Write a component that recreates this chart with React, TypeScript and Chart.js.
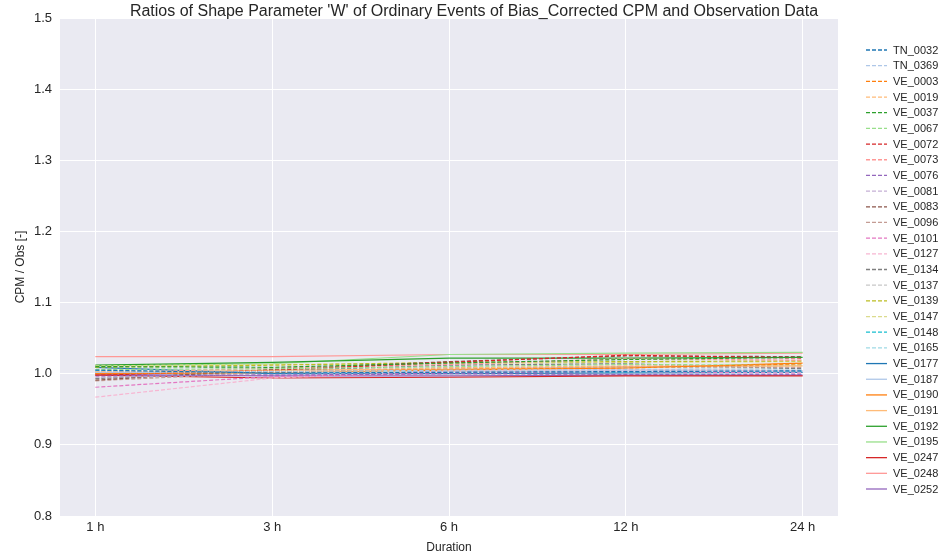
import React, { useEffect, useRef } from "react";
import { Chart, registerables } from "chart.js";

Chart.register(...registerables);

const TITLE = "Ratios of Shape Parameter 'W' of Ordinary Events of Bias_Corrected CPM and Observation Data";
const durations = ["1 h", "3 h", "6 h", "12 h", "24 h"];
const yTicks = [0.8, 0.9, 1.0, 1.1, 1.2, 1.3, 1.4, 1.5];

const stations = [
  "TN_0032", "TN_0369", "VE_0003", "VE_0019", "VE_0037", "VE_0067", "VE_0072", "VE_0073",
  "VE_0076", "VE_0081", "VE_0083", "VE_0096", "VE_0101", "VE_0127", "VE_0134", "VE_0137",
  "VE_0139", "VE_0147", "VE_0148", "VE_0165", "VE_0177", "VE_0187", "VE_0190", "VE_0191",
  "VE_0192", "VE_0195", "VE_0247", "VE_0248", "VE_0252",
];

const TN_0032 = [1.005, 1.001, 1.002, 1.003, 1.004];
const TN_0369 = [1.002, 1.003, 1.005, 1.006, 1.005];
const VE_0003 = [1.0, 1.002, 1.006, 1.008, 1.014];
const VE_0019 = [1.003, 1.004, 1.008, 1.011, 1.011];
const VE_0037 = [1.01, 1.009, 1.015, 1.02, 1.023];
const VE_0067 = [1.006, 1.007, 1.01, 1.013, 1.012];
const VE_0072 = [0.998, 1.005, 1.016, 1.026, 1.022];
const VE_0073 = [1.001, 1.008, 1.013, 1.021, 1.019];
const VE_0076 = [0.997, 0.998, 1.0, 0.999, 0.999];
const VE_0081 = [0.995, 0.999, 1.003, 1.004, 1.002];
const VE_0083 = [0.991, 1.006, 1.017, 1.025, 1.024];
const VE_0096 = [0.99, 1.002, 1.008, 1.01, 1.009];
const VE_0101 = [0.981, 0.996, 1.001, 1.003, 1.001];
const VE_0127 = [0.967, 0.994, 1.004, 1.006, 1.004];
const VE_0134 = [0.993, 1.004, 1.012, 1.014, 1.007];
const VE_0137 = [0.994, 1.003, 1.009, 1.009, 1.008];
const VE_0139 = [1.009, 1.012, 1.016, 1.017, 1.018];
const VE_0147 = [1.011, 1.013, 1.014, 1.016, 1.017];
const VE_0148 = [1.004, 1.001, 1.001, 1.002, 1.003];
const VE_0165 = [1.005, 1.003, 1.004, 1.006, 1.007];
const VE_0177 = [1.009, 1.0, 1.0, 1.001, 1.002];
const VE_0187 = [1.002, 1.001, 1.003, 1.004, 1.004];
const VE_0190 = [1.0, 1.001, 1.005, 1.008, 1.015];
const VE_0191 = [1.001, 1.005, 1.006, 1.01, 1.011];
const VE_0192 = [1.012, 1.016, 1.022, 1.022, 1.023];
const VE_0195 = [1.011, 1.014, 1.027, 1.029, 1.03];
const VE_0247 = [0.998, 0.994, 0.995, 0.997, 0.997];
const VE_0248 = [1.024, 1.024, 1.027, 1.027, 1.029];
const VE_0252 = [0.999, 0.997, 0.997, 0.998, 0.998];

const seriesValues = [
  TN_0032, TN_0369, VE_0003, VE_0019, VE_0037, VE_0067, VE_0072, VE_0073,
  VE_0076, VE_0081, VE_0083, VE_0096, VE_0101, VE_0127, VE_0134, VE_0137,
  VE_0139, VE_0147, VE_0148, VE_0165, VE_0177, VE_0187, VE_0190, VE_0191,
  VE_0192, VE_0195, VE_0247, VE_0248, VE_0252,
];

const tab20 = [
  "#1f77b4", "#aec7e8", "#ff7f0e", "#ffbb78", "#2ca02c", "#98df8a", "#d62728", "#ff9896",
  "#9467bd", "#c5b0d5", "#8c564b", "#c49c94", "#e377c2", "#f7b6d2", "#7f7f7f", "#c7c7c7",
  "#bcbd22", "#dbdb8d", "#17becf", "#9edae5",
];

const FONT = "'Liberation Sans', Arial, sans-serif";
const TEXT = "#262626";
const DASH = [4, 2];

const bgPlugin = {
  id: "plotBg",
  beforeDraw(chart: any) {
    const { ctx, chartArea } = chart;
    ctx.save();
    ctx.fillStyle = "#eaeaf2";
    ctx.fillRect(chartArea.left, chartArea.top, chartArea.right - chartArea.left, chartArea.bottom - chartArea.top);
    ctx.restore();
  },
};

const titleLegendPlugin = {
  id: "titleLegend",
  afterDraw(chart: any) {
    const { ctx } = chart;
    ctx.save();
    ctx.fillStyle = TEXT;
    ctx.font = `16px ${FONT}`;
    ctx.textAlign = "center";
    ctx.textBaseline = "middle";
    ctx.fillText(TITLE, chart.width / 2, 12);

    ctx.font = `11px ${FONT}`;
    ctx.textAlign = "left";
    const y0 = 50;
    const step = (489 - 50) / 28;
    chart.data.datasets.forEach((ds: any, i: number) => {
      const y = y0 + i * step;
      ctx.strokeStyle = ds.borderColor;
      ctx.lineWidth = 1.3;
      ctx.setLineDash(ds.borderDash || []);
      ctx.beginPath();
      ctx.moveTo(866, y);
      ctx.lineTo(887, y);
      ctx.stroke();
      ctx.setLineDash([]);
      ctx.fillStyle = TEXT;
      ctx.fillText(ds.label, 893, y + 0.5);
    });
    ctx.restore();
  },
};

export default function App() {
  const ref = useRef<HTMLCanvasElement | null>(null);

  useEffect(() => {
    document.body.style.margin = "0";
    const canvas = ref.current;
    if (!canvas) return;
    const datasets = stations.map((name, i) => ({
      label: name,
      data: seriesValues[i].map((v, j) => ({ x: j, y: v })),
      borderColor: tab20[i % 20],
      backgroundColor: tab20[i % 20],
      borderWidth: 1.2,
      borderDash: i < 20 ? DASH : [],
      pointRadius: 0,
      tension: 0,
      fill: false,
    }));
    const chart = new Chart(canvas, {
      type: "line",
      data: { datasets },
      plugins: [bgPlugin, titleLegendPlugin],
      options: {
        animation: false,
        responsive: false,
        maintainAspectRatio: false,
        layout: { padding: { left: 0, top: 18, right: 110, bottom: 0 } },
        plugins: {
          legend: { display: false },
          title: { display: false },
          tooltip: { enabled: false },
        },
        scales: {
          x: {
            type: "linear",
            min: -0.2,
            max: 4.2,
            afterBuildTicks: (scale: any) => {
              scale.ticks = durations.map((_, i) => ({ value: i }));
            },
            afterFit: (scale: any) => {
              scale.height = 42;
            },
            ticks: {
              callback: (v: any) => durations[v as number] ?? "",
              color: TEXT,
              font: { family: FONT, size: 13 },
              padding: 4,
              maxRotation: 0,
              autoSkip: false,
            },
            grid: { color: "#ffffff", lineWidth: 1, drawTicks: false },
            border: { display: false },
            title: {
              display: true,
              text: "Duration",
              color: TEXT,
              font: { family: FONT, size: 12 },
              padding: { top: 2, bottom: 3 },
            },
          },
          y: {
            type: "linear",
            min: 0.8,
            max: 1.5,
            afterBuildTicks: (scale: any) => {
              scale.ticks = yTicks.map((v) => ({ value: v }));
            },
            afterFit: (scale: any) => {
              scale.width = 60;
            },
            ticks: {
              callback: (v: any) => Number(v).toFixed(1),
              color: TEXT,
              font: { family: FONT, size: 13 },
              padding: 8,
            },
            grid: { color: "#ffffff", lineWidth: 1, drawTicks: false },
            border: { display: false },
            title: {
              display: true,
              text: "CPM / Obs [-]",
              color: TEXT,
              font: { family: FONT, size: 12 },
              padding: { top: 13, bottom: 4 },
            },
          },
        },
      },
    });
    return () => chart.destroy();
  }, []);

  return (
    <div style={{ width: 948, height: 558, background: "#ffffff" }}>
      <canvas ref={ref} width={948} height={558} style={{ display: "block" }} />
    </div>
  );
}
